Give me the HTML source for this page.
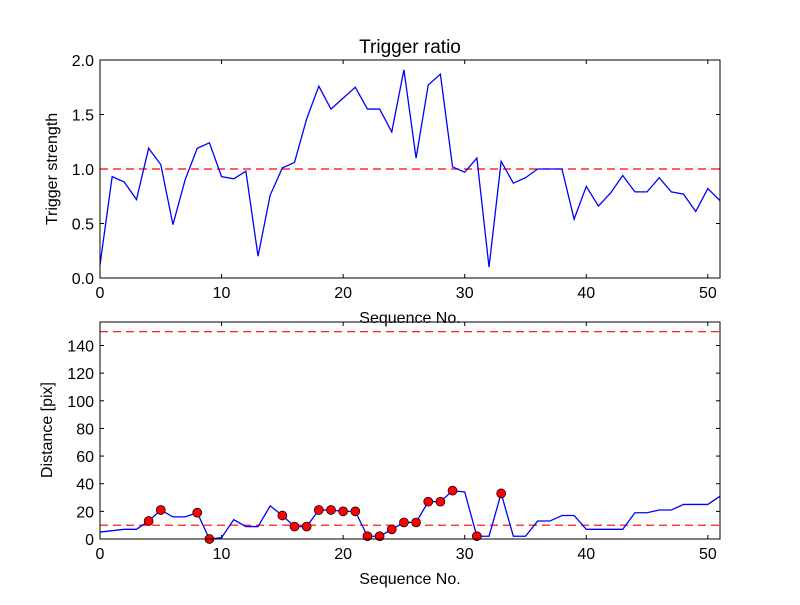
<!DOCTYPE html>
<html><head><meta charset="utf-8"><style>
body{margin:0;background:#fff}
svg text{font-family:"Liberation Sans","DejaVu Sans",sans-serif;fill:#000}
</style></head><body>
<svg id="c" width="800" height="600" xmlns="http://www.w3.org/2000/svg">
<rect width="800" height="600" fill="#fff"/>
</svg>
<script>
const seq = [...Array(52).keys()];
const ratio = [0.12,0.93,0.88,0.72,1.19,1.04,0.49,0.90,1.19,1.24,0.93,0.91,0.98,0.20,0.76,1.01,1.06,1.46,1.76,1.55,1.65,1.75,1.55,1.55,1.34,1.91,1.10,1.77,1.87,1.02,0.97,1.10,0.10,1.07,0.87,0.92,1.0,1.0,1.0,0.54,0.84,0.66,0.78,0.94,0.79,0.79,0.92,0.79,0.77,0.61,0.82,0.71];
const dist = [5,6,7,7,13,21,16,16,19,0,1,14,9,9,24,17,9,9,21,21,20,20,2,2,7,12,12,27,27,35,34,2,2,33,2,2,13,13,17,17,7,7,7,7,19,19,21,21,25,25,25,31];
const flagged = [4,5,8,9,15,16,17,18,19,20,21,22,23,24,25,26,27,28,29,31,33];
const xTicks = [0,10,20,30,40,50];
const yTicksTop = [0,0.5,1.0,1.5,2.0];
const yTicksBot = [0,20,40,60,80,100,120,140];
const ratioThreshold = 1.0;
const distThresholds = [10,150];

const svg = document.getElementById('c');
const NS = 'http://www.w3.org/2000/svg';
function mk(tag, attrs, parent){const e=document.createElementNS(NS,tag);for(const k in attrs)e.setAttribute(k,attrs[k]);(parent||svg).appendChild(e);return e;}

function panel(name, box, xmax, ymin, ymax, yTicks, fmt){
  const g = mk('g',{});
  
  
  const sx = v => box.x0 + (v/xmax)*(box.x1-box.x0);
  const sy = v => box.y1 - ((v-ymin)/(ymax-ymin))*(box.y1-box.y0);
  const clipId = name+'-clip';
  const cp = mk('clipPath',{id:clipId},g);
  mk('rect',{x:box.x0,y:box.y0,width:box.x1-box.x0,height:box.y1-box.y0},cp);
  xTicks.forEach(t=>{
    const x=sx(t);
    mk('line',{x1:x,x2:x,y1:box.y1,y2:box.y1-4,stroke:'#000'},g);
    mk('line',{x1:x,x2:x,y1:box.y0,y2:box.y0+4,stroke:'#000'},g);
    const tx=mk('text',{x:x,y:box.y1+20,'text-anchor':'middle','font-size':16},g);
    tx.textContent=t;
    
    
  });
  yTicks.forEach(t=>{
    const y=sy(t);
    mk('line',{x1:box.x0,x2:box.x0+4,y1:y,y2:y,stroke:'#000'},g);
    mk('line',{x1:box.x1,x2:box.x1-4,y1:y,y2:y,stroke:'#000'},g);
    const tx=mk('text',{x:box.x0-6,y:y+6,'text-anchor':'end','font-size':16},g);
    tx.textContent=fmt(t);
    
    
  });
  return {g,sx,sy,clipId};
}

const T = {x0:100,x1:720,y0:60,y1:278};
const p1 = panel('trigger-ratio-panel',T,51,0,2,yTicksTop,v=>v.toFixed(1));
const th1 = mk('line',{x1:T.x0,x2:T.x1,y1:p1.sy(ratioThreshold),y2:p1.sy(ratioThreshold),stroke:'#f00','stroke-dasharray':'8,5','stroke-width':1.2},p1.g);


const l1 = mk('polyline',{points:seq.map(i=>p1.sx(i)+','+p1.sy(ratio[i])).join(' '),fill:'none',stroke:'#00f','stroke-width':1.3,'clip-path':'url(#'+p1.clipId+')'},p1.g);


mk('rect',{x:T.x0,y:T.y0,width:T.x1-T.x0,height:T.y1-T.y0,fill:'none',stroke:'#000'},p1.g);
let t=mk('text',{x:410,y:53,'text-anchor':'middle','font-size':19},p1.g);t.textContent='Trigger ratio';


t=mk('text',{x:410,y:323,'text-anchor':'middle','font-size':16},p1.g);t.textContent='Sequence No.';


t=mk('text',{x:57,y:169,'text-anchor':'middle','font-size':16,transform:'rotate(-90 57 169)'},p1.g);t.textContent='Trigger strength';



const B = {x0:100,x1:720,y0:322,y1:539};
const p2 = panel('distance-panel',B,51,0,157,yTicksBot,v=>String(v));
distThresholds.forEach(v=>{
  const l=mk('line',{x1:B.x0,x2:B.x1,y1:p2.sy(v),y2:p2.sy(v),stroke:'#f00','stroke-dasharray':'8,5','stroke-width':1.2},p2.g);
  
  
});
const l2 = mk('polyline',{points:seq.map(i=>p2.sx(i)+','+p2.sy(dist[i])).join(' '),fill:'none',stroke:'#00f','stroke-width':1.3,'clip-path':'url(#'+p2.clipId+')'},p2.g);


flagged.forEach(i=>{
  const c=mk('circle',{cx:p2.sx(i),cy:p2.sy(dist[i]),r:4.5,fill:'#f00',stroke:'#000','stroke-width':0.7},p2.g);
  
  
});
mk('rect',{x:B.x0,y:B.y0,width:B.x1-B.x0,height:B.y1-B.y0,fill:'none',stroke:'#000'},p2.g);
t=mk('text',{x:410,y:584,'text-anchor':'middle','font-size':16},p2.g);t.textContent='Sequence No.';


t=mk('text',{x:52,y:430,'text-anchor':'middle','font-size':16,transform:'rotate(-90 52 430)'},p2.g);t.textContent='Distance [pix]';


</script>
</body></html>
